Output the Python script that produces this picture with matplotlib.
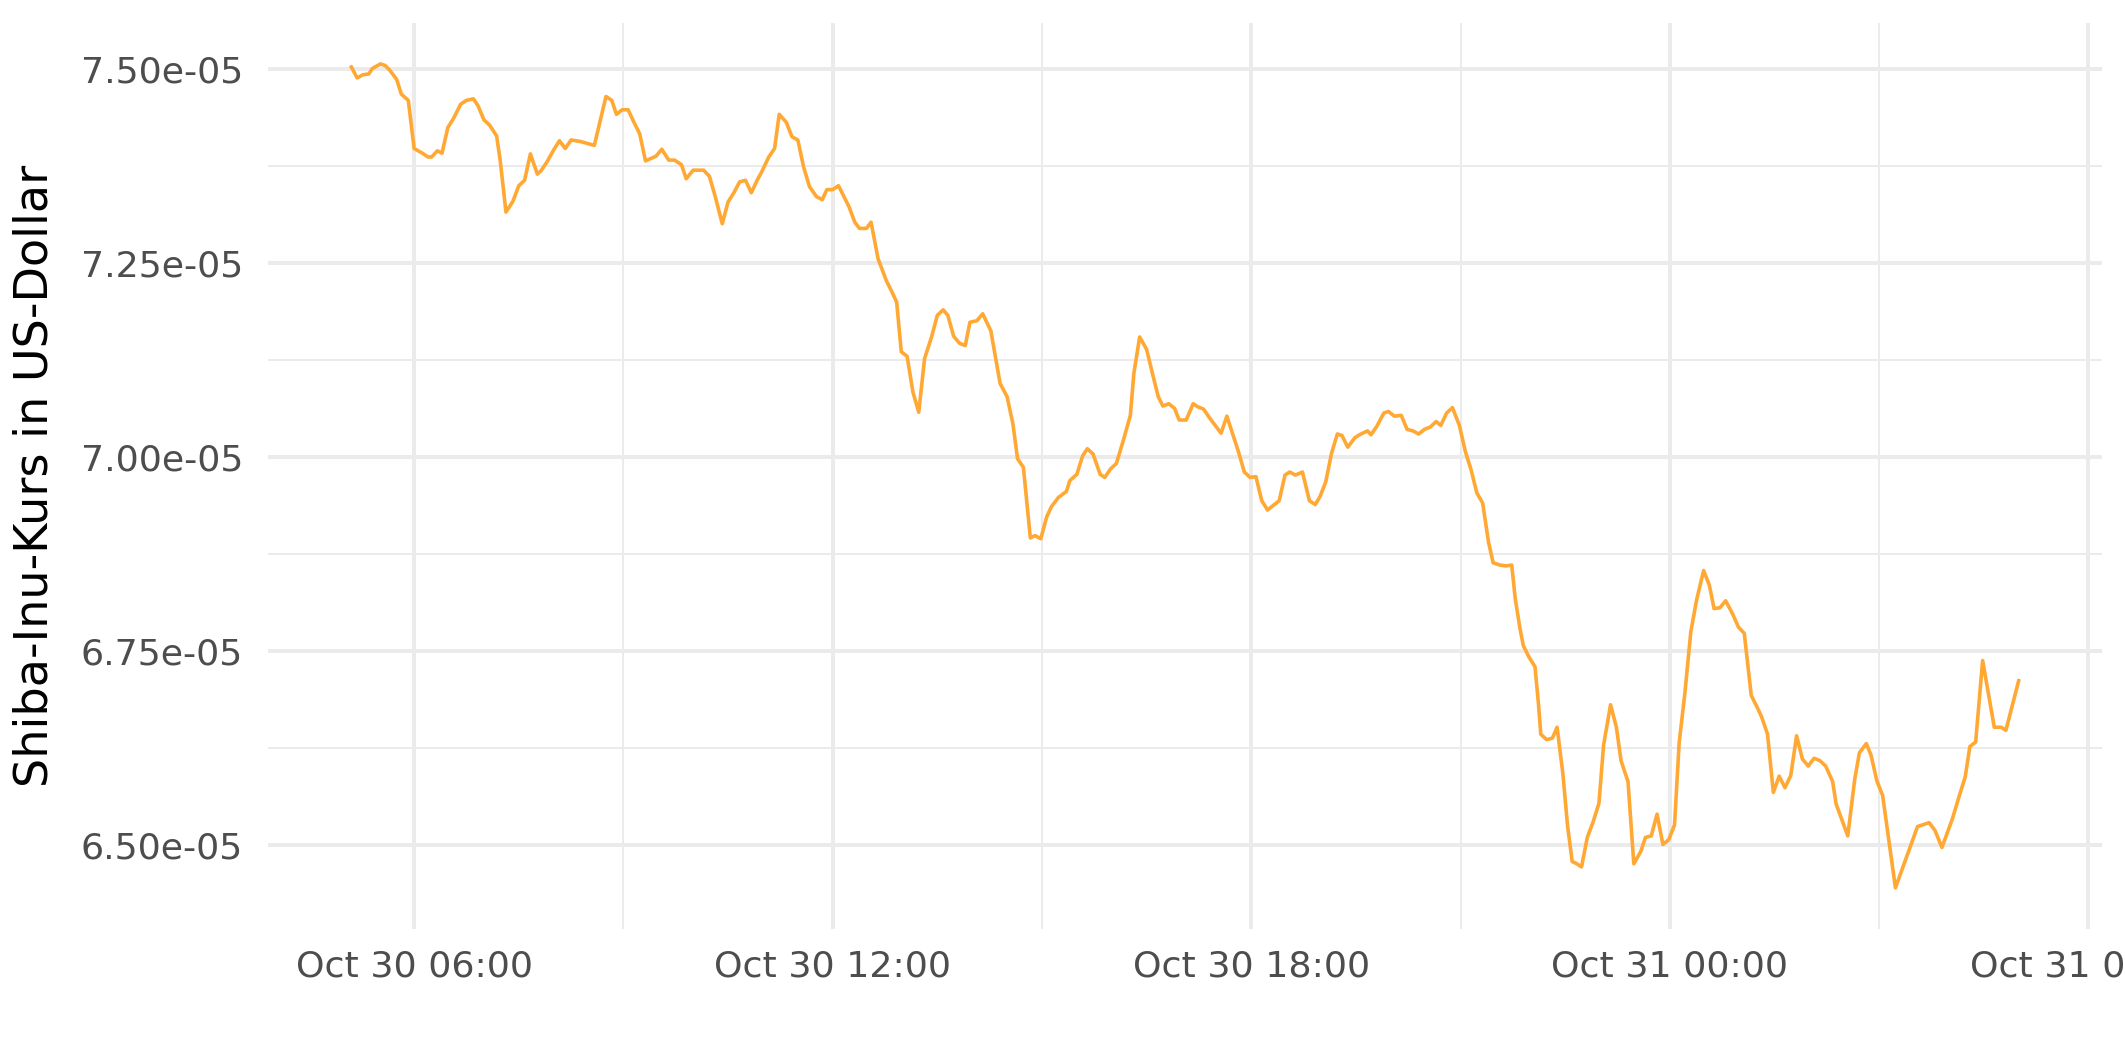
import numpy as np
import pandas as pd
import matplotlib
matplotlib.use("Agg")
import matplotlib.pyplot as plt
import matplotlib.dates as mdates
from matplotlib.ticker import FormatStrFormatter

# Shiba-Inu-Kurs, 30./31. Oktober 2021
# Minuten seit 2021-10-30 00:00
minutes = [
    306, 311, 316, 321, 324, 331, 335, 339, 345, 349, 355, 360, 367, 372, 375,
    380, 384, 389, 394, 400, 405, 411, 415, 420, 425, 431, 434, 439, 445, 450,
    455, 460, 466, 469, 474, 480, 485, 490, 495, 503, 515, 525, 530, 534, 539,
    544, 549, 554, 559, 568, 573, 579, 584, 590, 594, 600, 609, 614, 619, 625,
    630, 635, 640, 645, 650, 655, 659, 665, 670, 674, 680, 685, 690, 695, 700,
    706, 711, 715, 720, 725, 730, 734, 739, 743, 749, 753, 759, 766, 771, 775,
    779, 784, 789, 794, 799, 805, 810, 815, 819, 824, 829, 834, 838, 844, 849,
    856, 860, 864, 870, 875, 879, 884, 890, 894, 899, 904, 908, 914, 921, 924,
    930, 935, 939, 944, 950, 954, 959, 964, 970, 976, 979, 984, 990, 995, 1000,
    1004, 1009, 1014, 1018, 1024, 1030, 1034, 1039, 1044, 1054, 1059, 1064, 1069, 1074, 1079,
    1084, 1089, 1094, 1099, 1104, 1109, 1113, 1118, 1124, 1130, 1135, 1139, 1144, 1149, 1154,
    1158, 1163, 1169, 1173, 1180, 1183, 1188, 1194, 1198, 1203, 1209, 1214, 1219, 1224, 1229,
    1234, 1239, 1243, 1248, 1253, 1259, 1264, 1269, 1274, 1279, 1284, 1288, 1294, 1299, 1304,
    1307, 1311, 1314, 1319, 1324, 1327, 1329, 1334, 1339, 1343, 1348, 1352, 1356, 1360, 1364,
    1369, 1374, 1379, 1383, 1389, 1394, 1398, 1404, 1409, 1415, 1419, 1424, 1429, 1434, 1439,
    1444, 1448, 1453, 1458, 1463, 1469, 1474, 1478, 1483, 1488, 1494, 1499, 1504, 1510, 1515,
    1519, 1524, 1529, 1534, 1539, 1544, 1549, 1554, 1559, 1564, 1569, 1574, 1580, 1583, 1593,
    1599, 1603, 1609, 1613, 1618, 1623, 1634, 1653, 1663, 1668, 1674, 1683, 1689, 1694, 1698,
    1703, 1709, 1714, 1719, 1725, 1729, 1740,
]

# Kurs in 1e-5 USD
price_e5 = [
    7.503, 7.489, 7.493, 7.494, 7.501, 7.507, 7.505, 7.499, 7.487, 7.468, 7.460, 7.398, 7.392, 7.387, 7.387,
    7.395, 7.392, 7.425, 7.437, 7.455, 7.460, 7.462, 7.453, 7.435, 7.428, 7.414, 7.383, 7.316, 7.330, 7.350,
    7.357, 7.391, 7.365, 7.369, 7.380, 7.396, 7.408, 7.398, 7.409, 7.407, 7.402, 7.465, 7.460, 7.442, 7.448,
    7.448, 7.432, 7.417, 7.382, 7.388, 7.397, 7.383, 7.383, 7.377, 7.359, 7.370, 7.370, 7.362, 7.336, 7.301,
    7.329, 7.341, 7.355, 7.357, 7.341, 7.357, 7.368, 7.387, 7.398, 7.442, 7.432, 7.413, 7.409, 7.374, 7.349,
    7.336, 7.332, 7.345, 7.345, 7.350, 7.335, 7.323, 7.303, 7.295, 7.295, 7.303, 7.256, 7.228, 7.213, 7.200,
    7.136, 7.130, 7.084, 7.058, 7.127, 7.155, 7.183, 7.190, 7.183, 7.156, 7.147, 7.144, 7.174, 7.176, 7.185,
    7.163, 7.129, 7.095, 7.078, 7.043, 6.998, 6.987, 6.896, 6.899, 6.895, 6.923, 6.936, 6.948, 6.956, 6.970,
    6.978, 7.002, 7.011, 7.004, 6.978, 6.974, 6.985, 6.992, 7.022, 7.054, 7.108, 7.155, 7.139, 7.108, 7.078,
    7.066, 7.069, 7.063, 7.048, 7.048, 7.069, 7.065, 7.062, 7.051, 7.031, 7.053, 7.030, 7.007, 6.981, 6.974,
    6.975, 6.944, 6.932, 6.938, 6.944, 6.977, 6.981, 6.977, 6.981, 6.944, 6.939, 6.949, 6.968, 7.005, 7.030,
    7.028, 7.013, 7.025, 7.029, 7.034, 7.029, 7.040, 7.057, 7.059, 7.053, 7.054, 7.036, 7.034, 7.030, 7.036,
    7.039, 7.046, 7.041, 7.057, 7.064, 7.041, 7.008, 6.984, 6.954, 6.941, 6.891, 6.864, 6.861, 6.860, 6.861,
    6.818, 6.780, 6.757, 6.742, 6.730, 6.682, 6.643, 6.636, 6.638, 6.652, 6.592, 6.525, 6.479, 6.476, 6.472,
    6.510, 6.530, 6.554, 6.629, 6.681, 6.652, 6.609, 6.582, 6.476, 6.492, 6.510, 6.512, 6.540, 6.501, 6.507,
    6.526, 6.632, 6.697, 6.775, 6.816, 6.854, 6.835, 6.805, 6.806, 6.815, 6.798, 6.781, 6.773, 6.693, 6.678,
    6.665, 6.643, 6.568, 6.589, 6.574, 6.590, 6.641, 6.611, 6.602, 6.612, 6.609, 6.602, 6.582, 6.553, 6.512,
    6.585, 6.619, 6.631, 6.616, 6.583, 6.564, 6.445, 6.524, 6.529, 6.519, 6.497, 6.534, 6.564, 6.588, 6.627,
    6.633, 6.738, 6.695, 6.652, 6.652, 6.648, 6.712,
]

y_ticks_e5 = [6.50, 6.75, 7.00, 7.25, 7.50]
y_minor_e5 = [6.625, 6.875, 7.125, 7.375]

zeit = pd.Timestamp("2021-10-30") + pd.to_timedelta(minutes, unit="min")
kurs = np.array(price_e5) * 1e-5

fig = plt.figure(figsize=(10.625, 5.31), dpi=200)
ax = fig.add_axes([0.1261, 0.1252, 0.8631, 0.8534])

ax.plot(zeit, kurs, color="#FFA833", linewidth=1.3, zorder=3)
ax.margins(x=0.05, y=0.05)

# Achsen im Stil von theme_minimal
ax.xaxis.set_major_locator(mdates.HourLocator(byhour=[0, 6, 12, 18]))
ax.xaxis.set_minor_locator(mdates.HourLocator(byhour=[3, 9, 15, 21]))
ax.xaxis.set_major_formatter(mdates.DateFormatter("%b %d %H:%M"))
ax.set_yticks(np.array(y_ticks_e5) * 1e-5)
ax.set_yticks(np.array(y_minor_e5) * 1e-5, minor=True)
ax.yaxis.set_major_formatter(FormatStrFormatter("%.2e"))

ax.grid(which="major", color="#EBEBEB", linewidth=1.42)
ax.grid(which="minor", color="#EBEBEB", linewidth=0.71)
ax.set_axisbelow(True)
for s in ax.spines.values():
    s.set_visible(False)

ax.tick_params(which="both", length=0)
ax.tick_params(axis="y", labelsize=13.1, labelcolor="#4D4D4D", pad=9)
ax.tick_params(axis="x", labelsize=13.1, labelcolor="#4D4D4D", pad=7.5)

ax.set_ylabel("Shiba-Inu-Kurs in US-Dollar", fontsize=16.6, color="black")
ax.yaxis.set_label_coords(-0.1145, 0.5)

fig.savefig("out.png", dpi=200, facecolor="white")
